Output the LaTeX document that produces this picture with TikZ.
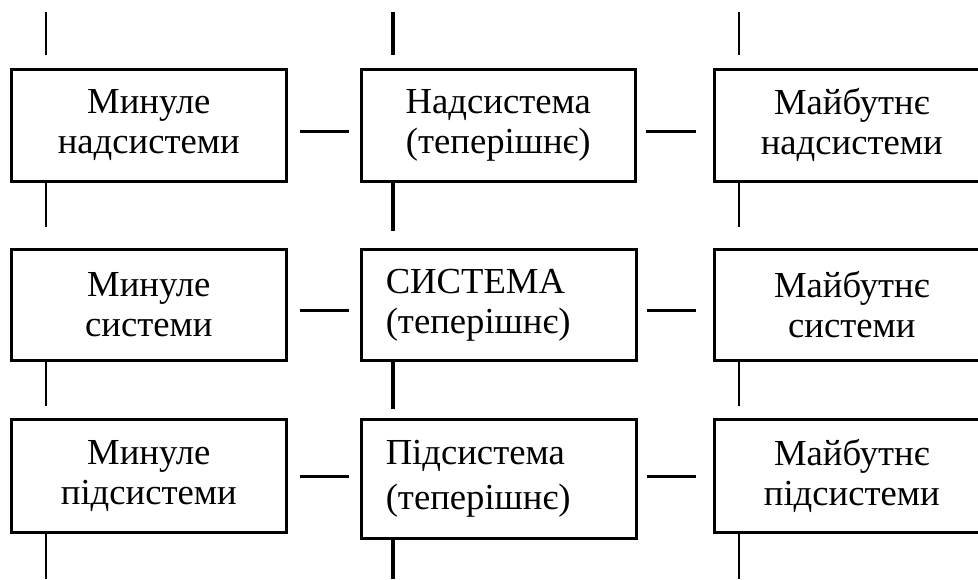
\documentclass[tikz,border=0pt]{standalone}
\usepackage{fontspec}
\setmainfont{Liberation Serif}
\usetikzlibrary{calc}

\begin{document}
\begin{tikzpicture}[x=0.75pt, y=-0.75pt,
	blok/.style={draw, line width=1.9pt, anchor=north west, minimum width=206.25pt, minimum height=84pt, inner sep=0pt, align=center, font=\fontsize{27.5}{30}\selectfont},
	blokl/.style={blok, align=left, inner xsep=18pt, inner ysep=0pt, text width=169.5pt},
	lin/.style={line width=1.9pt},
	linm/.style={line width=2.6pt}]
		%%%%% START %%%%%
		
		\useasboundingbox (0,0) rectangle (978,579);
		\clip (0,0) rectangle (978,579);
		
		\node[blok] (minNad) at (10,68) {Минуле\\надсистеми};
		\node[blok, minimum width=205.5pt] (nad) at (360,68) {Надсистема\\(теперішнє)};
		\node[blok] (maiNad) at (713,68) {Майбутнє\\надсистеми};
		
		\node[blok, minimum height=83.25pt] (minSys) at (10,248) {Минуле\\системи};
		\node[blokl, minimum height=83.25pt] (sys) at (360,248) {СИСТЕМА\\(теперішнє)};
		\node[blok, minimum height=83.25pt] (maiSys) at (713,248) {Майбутнє\\системи};
		
		\node[blok, minimum height=84.75pt] (minPid) at (10,418) {Минуле\\підсистеми};
		\node[blokl, minimum height=89.25pt] (pid) at (360,418) {Підсистема\\[3.75pt](теперішнє)};
		\node[blok, minimum height=84.75pt] (maiPid) at (713,418) {Майбутнє\\підсистеми};
		
		\coordinate (topL) at (46,12);
		\coordinate (topM) at (393,12);
		\coordinate (topR) at (739,12);
		\coordinate (botL) at (46,579);
		\coordinate (botM) at (393,579);
		\coordinate (botR) at (739,579);
		
		\draw[lin, shorten <=9pt, shorten >=8.25pt] ($(minNad.east)+(0,6)$) coordinate (h1) -- (h1 -| nad.west);
		\draw[lin, shorten <=6.75pt, shorten >=12.75pt] ($(nad.east)+(0,6)$) coordinate (h2) -- (h2 -| maiNad.west);
		\draw[lin, shorten <=9pt, shorten >=8.25pt] ($(minSys.east)+(0,5.5)$) coordinate (h3) -- (h3 -| sys.west);
		\draw[lin, shorten <=6.75pt, shorten >=12.75pt] ($(sys.east)+(0,5.5)$) coordinate (h4) -- (h4 -| maiSys.west);
		\draw[lin, shorten <=9pt, shorten >=8.25pt] ($(minPid.east)+(0,0.5)$) coordinate (h5) -- (h5 -| pid.west);
		\draw[lin, shorten <=6.75pt, shorten >=12.75pt] (h5 -| pid.east) -- (h5 -| maiPid.west);
		
		\draw[lin, shorten >=9.75pt] (topL) -- (topL |- minNad.north);
		\draw[lin, shorten >=15.75pt] (topL |- minNad.south) -- (topL |- minSys.north);
		\draw[lin, shorten >=9pt] (topL |- minSys.south) -- (topL |- minPid.north);
		\draw[lin] (topL |- minPid.south) -- (botL);
		
		\draw[linm, shorten >=9.75pt] (topM) -- (topM |- nad.north);
		\draw[linm, shorten >=12.75pt] (topM |- nad.south) -- (topM |- sys.north);
		\draw[linm, shorten >=6.75pt] (topM |- sys.south) -- (topM |- pid.north);
		\draw[linm] (topM |- pid.south) -- (botM);
		
		\draw[lin, shorten >=9.75pt] (topR) -- (topR |- maiNad.north);
		\draw[lin, shorten >=15.75pt] (topR |- maiNad.south) -- (topR |- maiSys.north);
		\draw[lin, shorten >=9pt] (topR |- maiSys.south) -- (topR |- maiPid.north);
		\draw[lin] (topR |- maiPid.south) -- (botR);
		
		%%%%% END %%%%%
\end{tikzpicture}
\end{document}
